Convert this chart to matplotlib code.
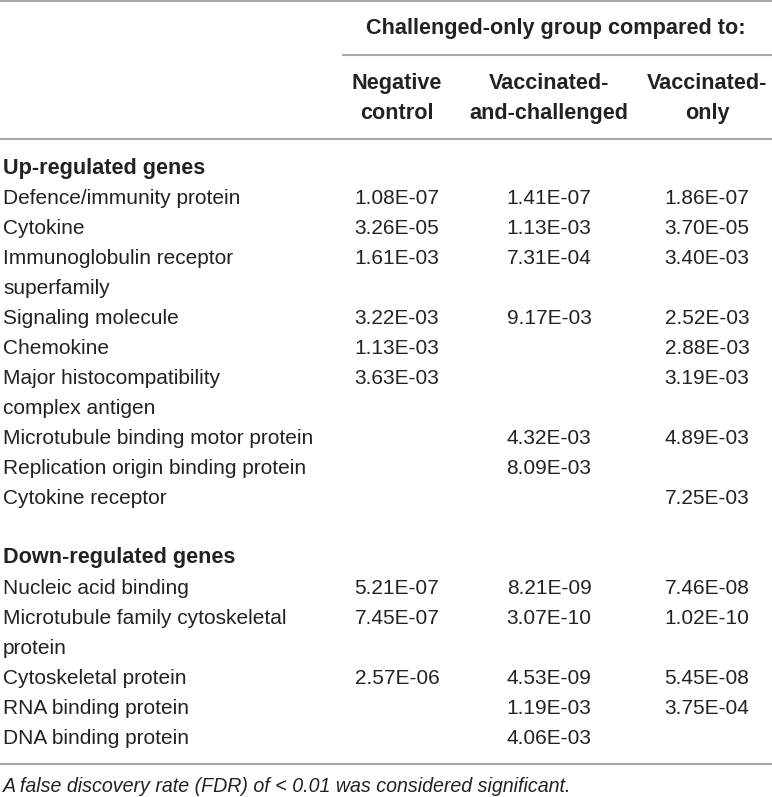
import matplotlib
matplotlib.use("Agg")
import matplotlib.pyplot as plt

# ---- data ----
group_header = "Challenged-only group compared to:"
column_headers = ["Negative\ncontrol", "Vaccinated-\nand-challenged", "Vaccinated-\nonly"]

up_title = "Up-regulated genes"
up_labels = [
    "Defence/immunity protein",
    "Cytokine",
    "Immunoglobulin receptor\nsuperfamily",
    "Signaling molecule",
    "Chemokine",
    "Major histocompatibility\ncomplex antigen",
    "Microtubule binding motor protein",
    "Replication origin binding protein",
    "Cytokine receptor",
]
up_negative = ["1.08E-07", "3.26E-05", "1.61E-03", "3.22E-03", "1.13E-03", "3.63E-03", "", "", ""]
up_vacc_chal = ["1.41E-07", "1.13E-03", "7.31E-04", "9.17E-03", "", "", "4.32E-03", "8.09E-03", ""]
up_vacc_only = ["1.86E-07", "3.70E-05", "3.40E-03", "2.52E-03", "2.88E-03", "3.19E-03", "4.89E-03", "", "7.25E-03"]

down_title = "Down-regulated genes"
down_labels = [
    "Nucleic acid binding",
    "Microtubule family cytoskeletal\nprotein",
    "Cytoskeletal protein",
    "RNA binding protein",
    "DNA binding protein",
]
down_negative = ["5.21E-07", "7.45E-07", "2.57E-06", "", ""]
down_vacc_chal = ["8.21E-09", "3.07E-10", "4.53E-09", "1.19E-03", "4.06E-03"]
down_vacc_only = ["7.46E-08", "1.02E-10", "5.45E-08", "3.75E-04", ""]

footnote = "A false discovery rate (FDR) of < 0.01 was considered significant."

# ---- layout ----
W, H = 772, 797
fig = plt.figure(figsize=(W / 100, H / 100), dpi=100)
ax = fig.add_axes([0, 0, 1, 1])
ax.set_xlim(0, W)
ax.set_ylim(H, 0)
ax.axis("off")

FONT = "Liberation Sans"
FS = 15.0
FSB = 15.6
FSF = 14.1
TXT = "#222222"
LINE = "#a8a8a8"
LW = 1.5

col_x = [397, 549, 707]
label_x = 3
pitch = 30.0

def hline(y, x0=0, x1=W):
    ax.plot([x0, x1], [y, y], color=LINE, lw=LW, solid_capstyle="butt")

hline(1)
ax.text(556, 28, group_header, ha="center", va="center", fontsize=FSB,
        fontweight="bold", family=FONT, color=TXT)
hline(55, 342, W)
for x, h in zip(col_x, column_headers):
    for i, ln in enumerate(h.split("\n")):
        ax.text(x, 83 + i * pitch, ln, ha="center", va="center", fontsize=FSB,
                fontweight="bold", family=FONT, color=TXT)
hline(139)

y = 168.0
sections = [
    (up_title, up_labels, [up_negative, up_vacc_chal, up_vacc_only]),
    (down_title, down_labels, [down_negative, down_vacc_chal, down_vacc_only]),
]
for si, (title, labels, cols) in enumerate(sections):
    if si > 0:
        y += pitch
    ax.text(label_x, y, title, ha="left", va="center", fontsize=FSB,
            fontweight="bold", family=FONT, color=TXT)
    y += pitch
    for ri, lab in enumerate(labels):
        lines = lab.split("\n")
        for li, ln in enumerate(lines):
            ax.text(label_x, y + li * pitch, ln, ha="left", va="center",
                    fontsize=FS, family=FONT, color=TXT)
        for x, col in zip(col_x, cols):
            if col[ri]:
                ax.text(x, y, col[ri], ha="center", va="center", fontsize=FS,
                        family=FONT, color=TXT)
        y += pitch * len(lines)

hline(764)
ax.text(label_x, 787, footnote, ha="left", va="center", fontsize=FSF,
        style="italic", family=FONT, color=TXT)

fig.savefig("out.png", dpi=100, facecolor="white")
